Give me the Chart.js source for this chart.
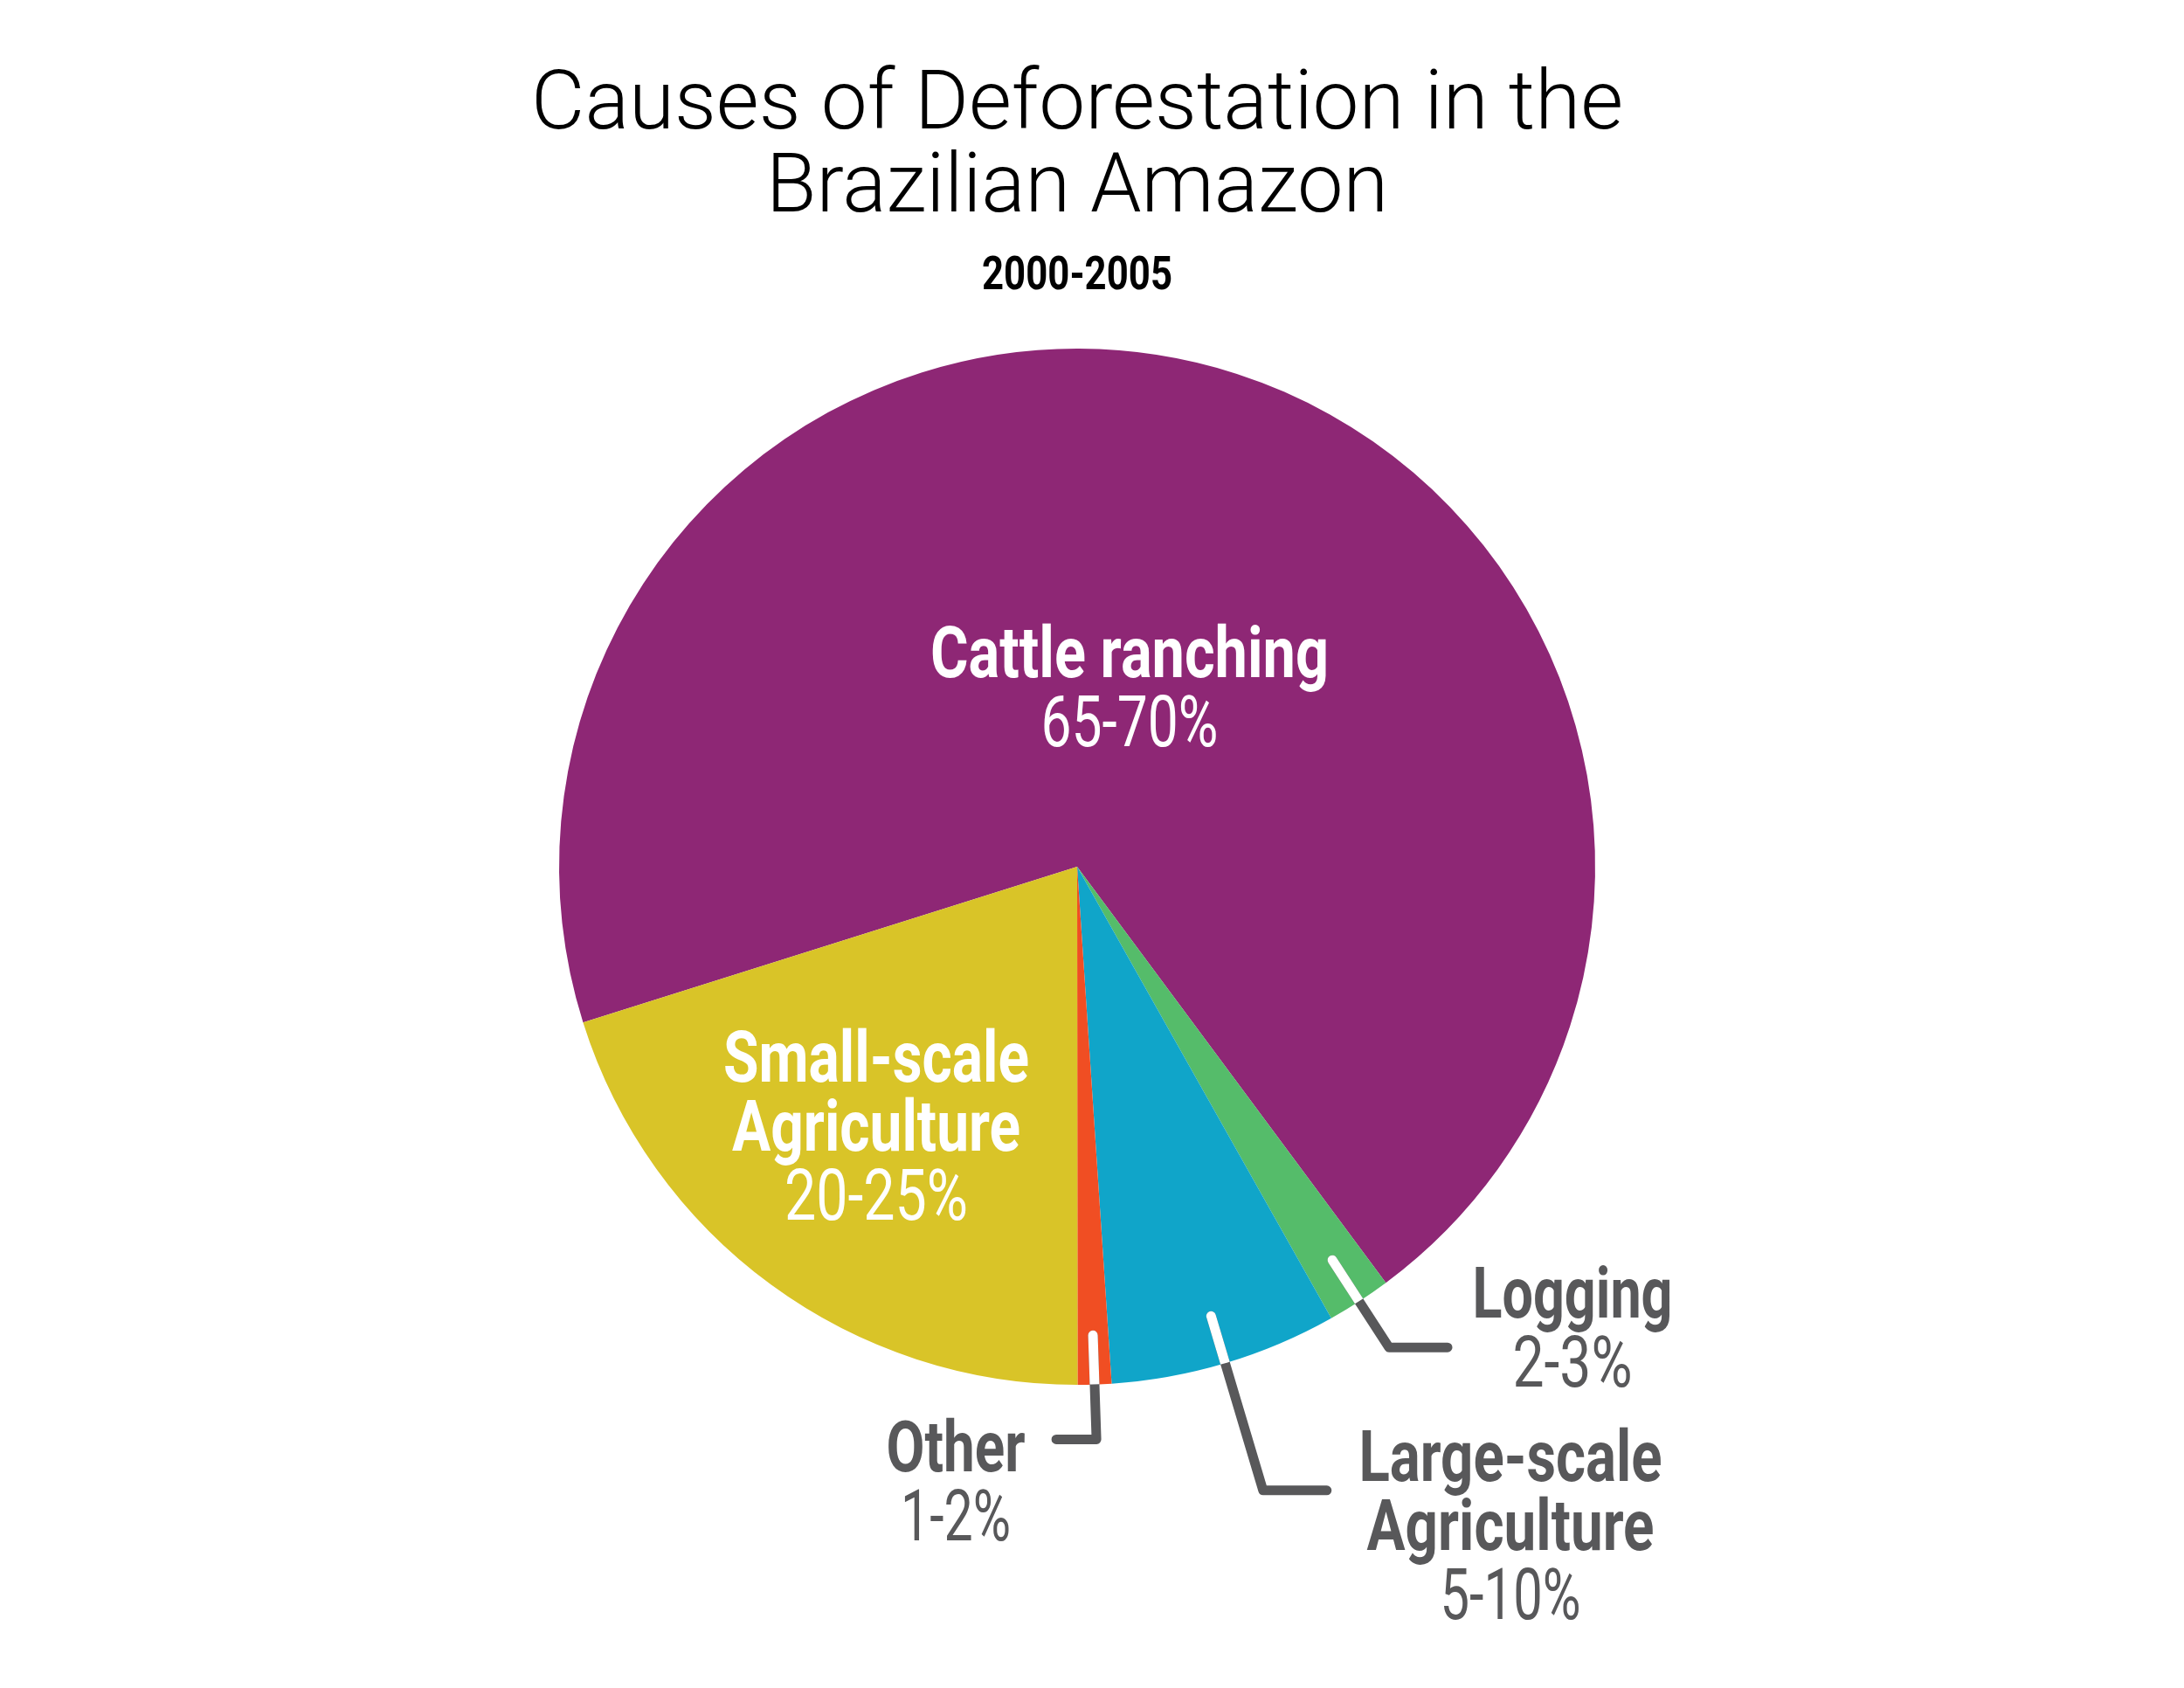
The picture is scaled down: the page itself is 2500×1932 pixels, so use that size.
<!DOCTYPE html>
<html>
<head>
<meta charset="utf-8">
<script src="https://cdn.jsdelivr.net/npm/chart.js@4/dist/chart.umd.min.js"></script>
<style>
  html, body { margin: 0; padding: 0; background: #ffffff; }
  #wrap { width: 2500px; height: 1932px; position: relative; }
</style>
</head>
<body>
<div id="wrap"><canvas id="c" width="2500" height="1932"></canvas></div>
<script>
// ---------- data ----------
const titleLines = ["Causes of Deforestation in the", "Brazilian Amazon"];
const subtitleText = "2000-2005";
const categories = ["Cattle ranching", "Logging", "Large-scale Agriculture", "Other", "Small-scale Agriculture"];
const shareValues = [69.7, 2.0, 7.1, 1.05, 20.15];
const rangeLabels = ["65-70%", "2-3%", "5-10%", "1-2%", "20-25%"];
const nameLines = [["Cattle ranching"], ["Logging"], ["Large-scale", "Agriculture"], ["Other"], ["Small-scale", "Agriculture"]];

// ---------- styles / layout ----------
const sliceColors = ["#8E2775", "#55BC6A", "#10A5C9", "#F04E23", "#D9C428"];
const GRAY = "#58585A";
const FONT = "Roboto, 'Liberation Sans', sans-serif";
// label anchors relative to the pie centre (px); widths used to condense text
const labelLayout = [
  { dx: 60,   dy: -217, widths: [456],      pctWidth: 203, color: "#ffffff" },
  { dx: 567,  dy: 516,  widths: [229],      pctWidth: 137, color: GRAY },
  { dx: 496,  dy: 703,  widths: [347, 329], pctWidth: 161, color: GRAY },
  { dx: -139, dy: 692,  widths: [159],      pctWidth: 126, color: GRAY },
  { dx: -230, dy: 246,  widths: [350, 330], pctWidth: 210, color: "#ffffff" }
];
// leader lines: radial from inside the slice to outside, then a horizontal tail
const leaders = {
  1: { rIn: 0.905, rOut: 1.106, tail: 67 },
  2: { rIn: 0.905, rOut: 1.256, tail: 73 },
  3: { rIn: 0.905, rOut: 1.106, tail: -46 }
};

function drawFit(ctx, text, cx, baseline, font, color, targetWidth) {
  ctx.save();
  ctx.font = font;
  const w = ctx.measureText(text).width;
  const sx = targetWidth ? targetWidth / w : 1;
  ctx.translate(cx, baseline);
  ctx.scale(sx, 1);
  ctx.fillStyle = color;
  ctx.textAlign = "center";
  ctx.textBaseline = "alphabetic";
  ctx.fillText(text, 0, 0);
  ctx.restore();
}

const annotations = {
  id: "annotations",
  afterDatasetsDraw(chart) {
    const ctx = chart.ctx;
    const arcs = chart.getDatasetMeta(0).data;
    const cx = arcs[0].x, cy = arcs[0].y, R = arcs[0].outerRadius;

    // leader lines
    Object.keys(leaders).forEach(k => {
      const i = +k, L = leaders[k], a = arcs[i];
      const mid = (a.startAngle + a.endAngle) / 2;
      const p0 = [cx + Math.cos(mid) * R * L.rIn, cy + Math.sin(mid) * R * L.rIn];
      const p1 = [cx + Math.cos(mid) * R * L.rOut, cy + Math.sin(mid) * R * L.rOut];
      const p2 = [p1[0] + L.tail, p1[1]];
      const path = () => {
        ctx.beginPath();
        ctx.moveTo(p0[0], p0[1]);
        ctx.lineTo(p1[0], p1[1]);
        ctx.lineTo(p2[0], p2[1]);
      };
      ctx.save();
      ctx.lineWidth = 11;
      ctx.lineCap = "round";
      ctx.lineJoin = "round";
      ctx.strokeStyle = GRAY;
      path(); ctx.stroke();
      ctx.beginPath();
      ctx.arc(cx, cy, R, 0, Math.PI * 2);
      ctx.clip();
      ctx.strokeStyle = "#ffffff";
      path(); ctx.stroke();
      ctx.restore();
    });

    // slice labels
    labelLayout.forEach((L, i) => {
      const x = cx + L.dx;
      let y = cy + L.dy;
      nameLines[i].forEach((line, j) => {
        drawFit(ctx, line, x, y, "700 82px " + FONT, L.color, L.widths[j]);
        y += 79;
      });
      drawFit(ctx, rangeLabels[i], x, y, "400 82px " + FONT, L.color, L.pctWidth);
    });

    // titles
    const tx = cx;
    drawFit(ctx, titleLines[0], tx, 147, "300 95px " + FONT, "#000000", 1250);
    drawFit(ctx, titleLines[1], tx, 242, "300 95px " + FONT, "#000000", 712);
    drawFit(ctx, subtitleText, tx, 331, "700 54px " + FONT, "#000000", 218);
  }
};

new Chart(document.getElementById("c"), {
  type: "pie",
  data: {
    labels: categories,
    datasets: [{
      data: shareValues,
      backgroundColor: sliceColors,
      borderWidth: 0,
      hoverOffset: 0
    }]
  },
  options: {
    responsive: false,
    animation: false,
    events: [],
    rotation: 252.5,
    layout: { padding: { left: 640, right: 674, top: 399, bottom: 347 } },
    plugins: {
      legend: { display: false },
      tooltip: { enabled: false },
      title: { display: false }
    }
  },
  plugins: [annotations]
});
</script>
</body>
</html>
